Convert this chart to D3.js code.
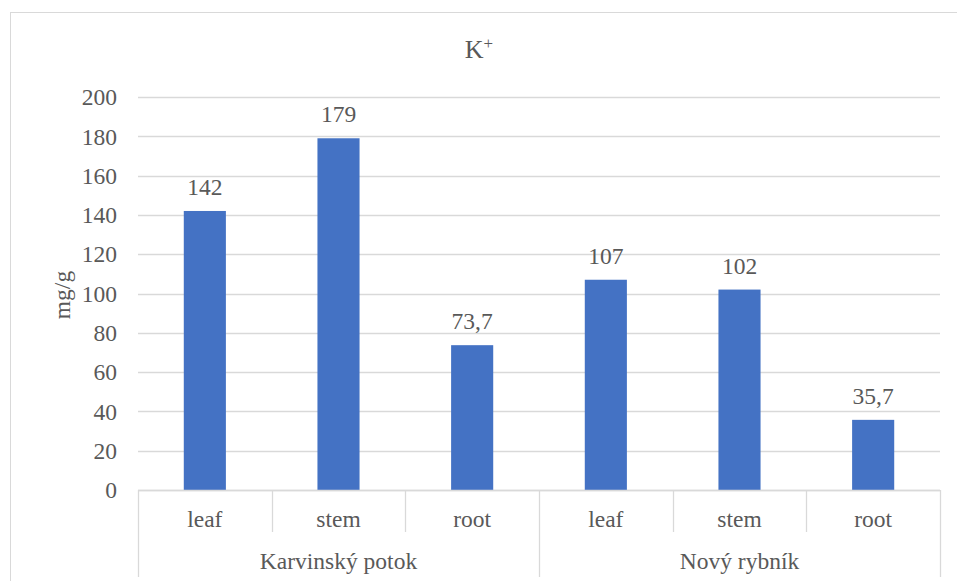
<!DOCTYPE html>
<html><head><meta charset="utf-8">
<script src="https://cdn.jsdelivr.net/npm/d3@7"></script>
<style>body{margin:0;background:#fff;} svg{display:block;}</style>
</head><body>
<svg id="c" width="957" height="581"></svg>
<script>
const groups = ["Karvinský potok", "Nový rybník"];
const parts = ["leaf", "stem", "root"];
const values = [142, 179, 73.7, 107, 102, 35.7];
const valueLabels = ["142", "179", "73,7", "107", "102", "35,7"];
const yTicks = [0, 20, 40, 60, 80, 100, 120, 140, 160, 180, 200];

const svg = d3.select("#c");
const font = "Liberation Serif";
const fs = 23.5;
const txt = "#595959", grid = "#d9d9d9", bar = "#4472c4";

// outer border
svg.append("rect").attr("x", 10.5).attr("y", 12.5).attr("width", 950).attr("height", 580)
  .attr("fill", "none").attr("stroke", grid);

const L = 138, R = 940, T = 97, B = 490;
const keys = [];
groups.forEach((g, gi) => parts.forEach((p, pi) => keys.push(gi + "-" + pi)));
const x = d3.scaleBand().domain(keys).range([L, R]).paddingInner(0).paddingOuter(0);
const y = d3.scaleLinear().domain([0, 200]).range([B, T]);

// gridlines
svg.append("g").selectAll("line").data(yTicks).join("line")
  .attr("x1", L).attr("x2", R).attr("y1", d => Math.round(y(d)) + 0.5).attr("y2", d => Math.round(y(d)) + 0.5)
  .attr("stroke", grid).attr("stroke-width", 1.3);

// y axis labels
const yAxis = d3.axisLeft(y).tickValues(yTicks).tickSize(0).tickPadding(0);
const ya = svg.append("g").attr("transform", `translate(${117},0)`).call(yAxis);
ya.select(".domain").remove();
ya.attr("font-family", font).attr("font-size", fs);
ya.selectAll("text").attr("font-family", font).attr("font-size", fs).attr("fill", txt).attr("dy", "0.33em");

// bars
const bw = x.bandwidth() * 0.315;
svg.append("g").selectAll("rect").data(values).join("rect")
  .attr("x", (d, i) => x(keys[i]) + x.bandwidth() / 2 - bw / 2)
  .attr("width", bw)
  .attr("y", d => y(d)).attr("height", d => B - y(d))
  .attr("fill", bar);

// value labels
svg.append("g").selectAll("text").data(values).join("text")
  .attr("x", (d, i) => x(keys[i]) + x.bandwidth() / 2)
  .attr("y", d => y(d) - 16)
  .attr("text-anchor", "middle").attr("font-family", font).attr("font-size", fs).attr("fill", txt)
  .text((d, i) => valueLabels[i]);

// category axis
const ax = svg.append("g");
ax.append("line").attr("x1", L).attr("x2", R).attr("y1", B + 0.5).attr("y2", B + 0.5).attr("stroke", grid).attr("stroke-width", 1.3);
keys.forEach((k, i) => {
  const xs = Math.round(x(k)) + 0.5;
  const isGroup = i % parts.length === 0;
  ax.append("line").attr("x1", xs).attr("x2", xs).attr("y1", B).attr("y2", isGroup ? 577 : 532)
    .attr("stroke", grid).attr("stroke-width", 1.3);
});
ax.append("line").attr("x1", R + 0.5).attr("x2", R + 0.5).attr("y1", B).attr("y2", 577).attr("stroke", grid).attr("stroke-width", 1.3);

ax.selectAll("text.p").data(keys).join("text").attr("class", "p")
  .attr("x", k => x(k) + x.bandwidth() / 2).attr("y", 527)
  .attr("text-anchor", "middle").attr("font-family", font).attr("font-size", fs).attr("fill", txt)
  .text(k => parts[+k.split("-")[1]]);

ax.selectAll("text.g").data(groups).join("text").attr("class", "g")
  .attr("x", (g, gi) => (x(keys[gi * 3]) + x(keys[gi * 3 + 2]) + x.bandwidth()) / 2).attr("y", 569)
  .attr("text-anchor", "middle").attr("font-family", font).attr("font-size", fs).attr("fill", txt)
  .text(g => g);

// title
const t = svg.append("text").attr("x", 479).attr("y", 58).attr("text-anchor", "middle")
  .attr("font-family", font).attr("font-size", 26).attr("fill", txt);
t.append("tspan").text("K");
t.append("tspan").attr("dy", -9).attr("font-size", 17).text("+");

// y title
svg.append("text").attr("transform", `translate(70,295) rotate(-90)`)
  .attr("text-anchor", "middle").attr("font-family", font).attr("font-size", fs).attr("fill", txt)
  .text("mg/g");
</script>
</body></html>
